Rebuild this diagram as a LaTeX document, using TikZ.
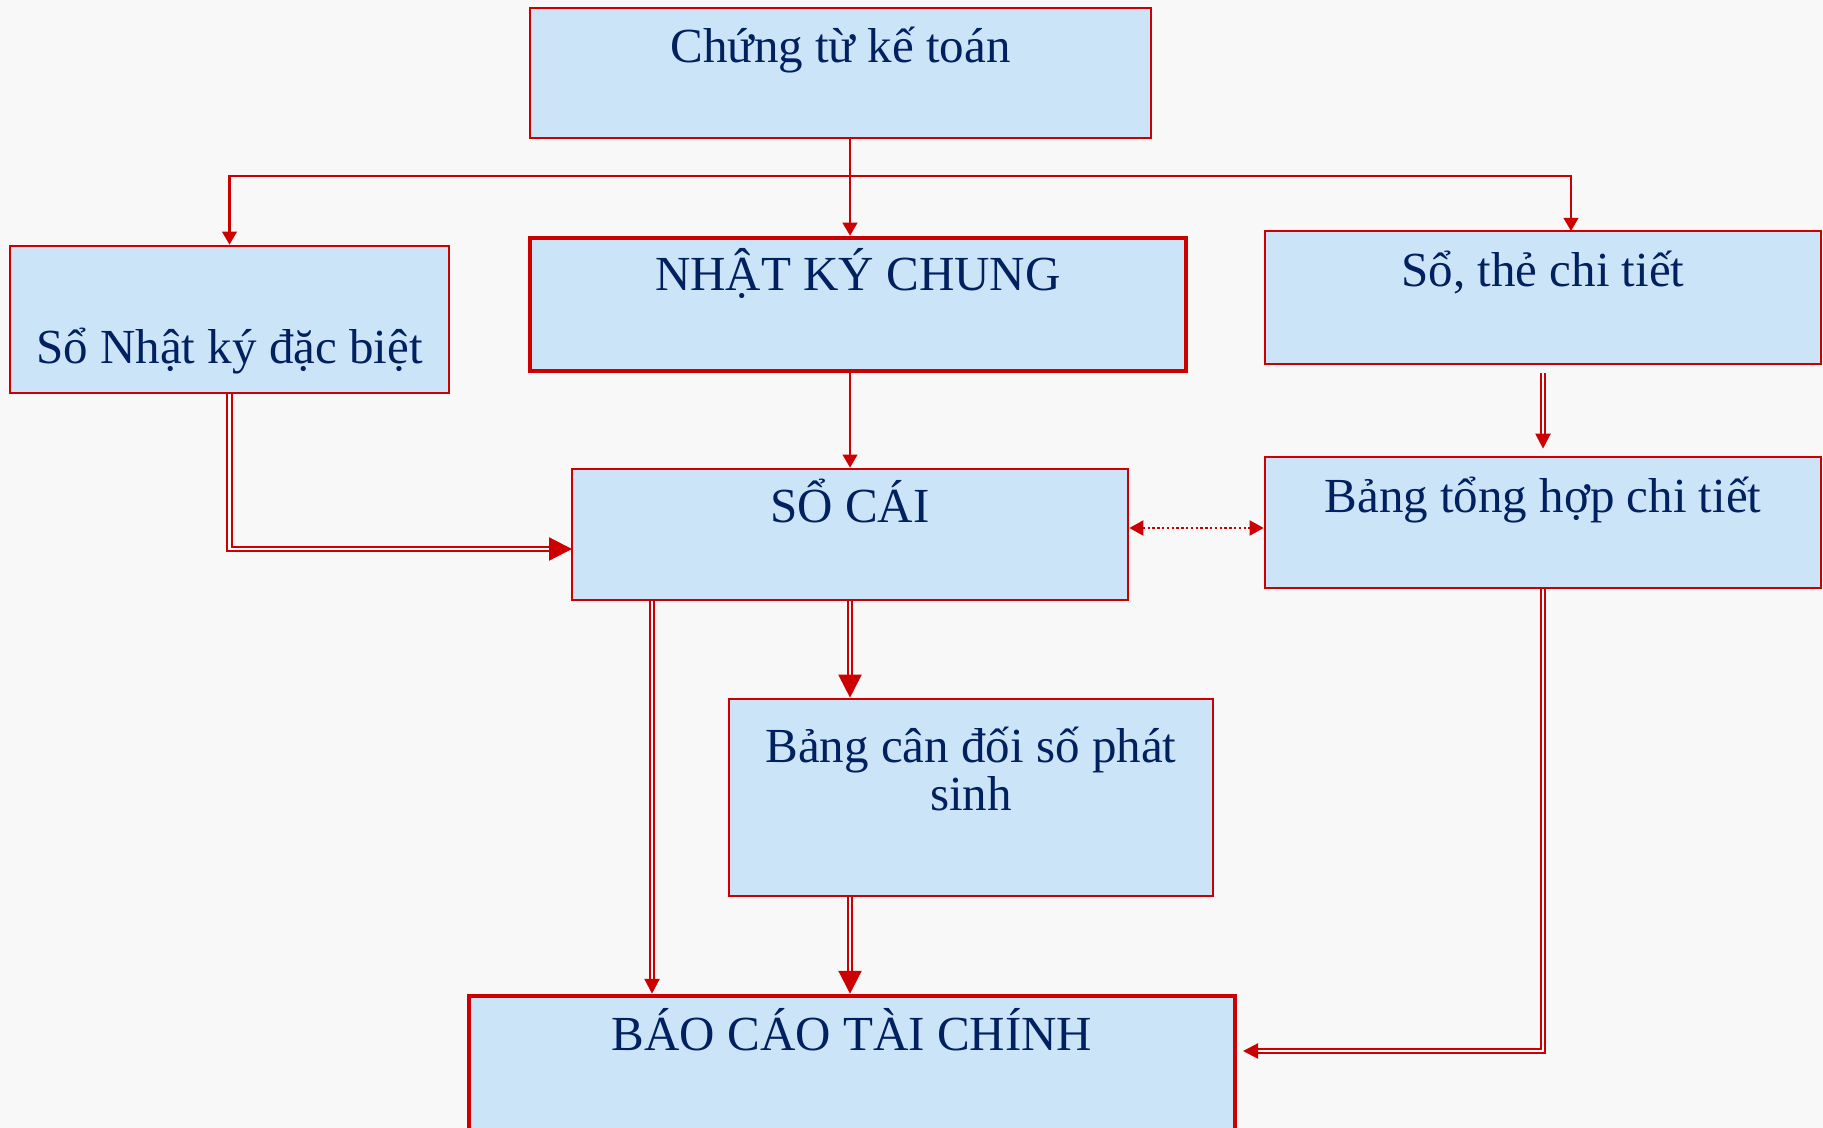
\documentclass[tikz,border=0pt]{standalone}
\usepackage{fontspec}
\setmainfont{Liberation Serif}
\usetikzlibrary{arrows.meta}
\definecolor{boxblue}{RGB}{204,228,248}
\definecolor{linered}{RGB}{204,0,0}
\definecolor{textnavy}{RGB}{0,32,96}
\definecolor{paper}{RGB}{248,248,248}
\tikzset{
  box/.style={rectangle, draw=linered, fill=boxblue, line width=1.35pt, inner sep=0pt},
  boldbox/.style={box, line width=2.25pt},
  boxtext/.style={anchor=base, text=textnavy, font=\fontsize{24.5}{24}\selectfont, align=center, inner sep=0pt},
  link/.style={draw=linered, line width=1.2pt, -{Triangle[width=7.25pt,length=6.5pt]}},
  dlink/.style={draw=linered, line width=1.1pt, double=white, double distance=1.2pt, -{Triangle[width=7.5pt,length=7.5pt]}},
  bigdlink/.style={dlink, -{Triangle[width=11.5pt,length=11.5pt]}},
  dotlink/.style={draw=linered, line width=1pt, dash pattern=on 1.2pt off 1.2pt, {Triangle[width=7.5pt,length=7pt]}-{Triangle[width=7.5pt,length=7pt]}}
}

\begin{document}
\begin{tikzpicture}[x=0.5pt, y=-0.5pt]
% background
\fill[paper] (0,0) rectangle (1823,1128);
\useasboundingbox (0,0) rectangle (1823,1128);

% boxes
\node[box, minimum width=310.5pt, minimum height=65pt, label={[boxtext, yshift=-28pt]north:Chứng từ kế toán}] (ctkt) at (840.5,73) {};
\node[box, minimum width=219.5pt, minimum height=73.5pt, label={[boxtext, yshift=15.5pt]south:Sổ Nhật ký đặc biệt}] (snkdb) at (229.5,319.5) {};
\node[boldbox, minimum width=328pt, minimum height=66.5pt, label={[boxtext, yshift=-27.5pt]north:NHẬT KÝ CHUNG}] (nkc) at (858,304.5) {};
\node[box, minimum width=278pt, minimum height=66.5pt, label={[boxtext, yshift=-28.5pt]north:Sổ, thẻ chi tiết}] (stct) at (1543,297.5) {};
\node[box, minimum width=278pt, minimum height=65.5pt, label={[boxtext, yshift=-27.5pt]north:SỔ CÁI}] (socai) at (850,534.5) {};
\node[box, minimum width=278pt, minimum height=65.5pt, label={[boxtext, yshift=-28.5pt]north:Bảng tổng hợp chi tiết}] (bthct) at (1543,522.5) {};
\node[box, minimum width=242pt, minimum height=98.5pt, label={[boxtext, yshift=-56.5pt]north:Bảng cân đối số phát\\sinh}] (bcdps) at (971,797.5) {};
\node[boldbox, minimum width=383pt, minimum height=82pt, label={[boxtext, yshift=-28.5pt]north:BÁO CÁO TÀI CHÍNH}] (bctc) at (852,1078) {};

% helper points
\coordinate (split) at (850,176);
\coordinate (stctin) at (1571,231);
\coordinate (socaiin) at (572,549);
\coordinate (dotrow) at (0,528);
\coordinate (dropx) at (652,0);
\coordinate (bctcin) at (1243,1051);

% connectors
\draw[link] (ctkt.south -| split) -- (nkc.north -| split);
\draw[link] (split) -| (snkdb.north);
\draw[link] (split) -| (stctin);
\draw[link] (nkc.south -| socai.north) -- (socai.north);
\draw[bigdlink] (snkdb.south) |- (socaiin);
\draw[dlink, shorten <=4pt, shorten >=3.5pt] (stct.south) -- (bthct.north);
\draw[dotlink] (socai.east |- dotrow) -- (bthct.west |- dotrow);
\draw[bigdlink] (socai.south) -- (bcdps.north -| socai.south);
\draw[dlink] (socai.south -| dropx) -- (bctc.north -| dropx);
\draw[bigdlink] (bcdps.south -| socai.south) -- (bctc.north -| socai.south);
\draw[dlink] (bthct.south) |- (bctcin);

\end{tikzpicture}
\end{document}
